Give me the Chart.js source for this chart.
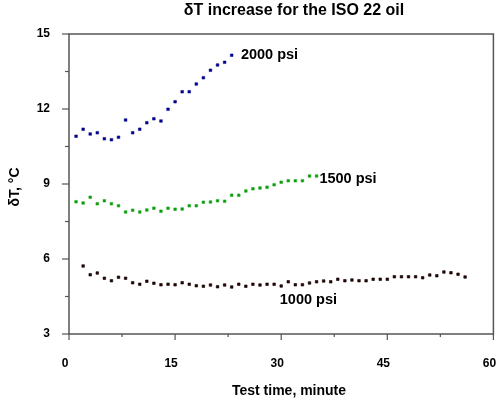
<!DOCTYPE html>
<html><head><meta charset="utf-8">
<script src="https://cdn.jsdelivr.net/npm/chart.js@4/dist/chart.umd.min.js"></script>
<style>html,body{margin:0;padding:0;background:#fff}canvas{display:block}</style>
</head><body>
<canvas id="c" width="498" height="404"></canvas>
<script>
const title = "δT increase for the ISO 22 oil";
const xTitle = "Test time, minute";
const yTitle = "δT, °C";
const xTicks = [0, 15, 30, 45, 60];
const yTicks = [3, 6, 9, 12, 15];
const seriesNames = ["2000 psi", "1500 psi", "1000 psi"];

const t2000 = [1,2,3,4,5,6,7,8,9,10,11,12,13,14,15,16,17,18,19,20,21,22,23];
const v2000 = [10.91,11.19,11.0,11.05,10.81,10.77,10.87,11.56,11.05,11.19,11.45,11.61,11.52,11.99,12.29,12.69,12.69,13.0,13.25,13.55,13.76,13.87,14.15];

const t1500 = [1,2,3,4,5,6,7,8,9,10,11,12,13,14,15,16,17,18,19,20,21,22,23,24,25,26,27,28,29,30,31,32,33,34,35];
const v1500 = [8.29,8.24,8.47,8.21,8.33,8.21,8.13,7.88,7.95,7.88,7.96,8.03,7.91,8.03,7.99,8.0,8.13,8.13,8.27,8.28,8.33,8.31,8.55,8.55,8.72,8.81,8.84,8.87,8.97,9.07,9.13,9.13,9.13,9.32,9.32];

const t1000 = [2,3,4,5,6,7,8,9,10,11,12,13,14,15,16,17,18,19,20,21,22,23,24,25,26,27,28,29,30,31,32,33,34,35,36,37,38,39,40,41,42,43,44,45,46,47,48,49,50,51,52,53,54,55,56];
const v1000 = [5.72,5.37,5.44,5.23,5.13,5.27,5.23,5.05,4.99,5.11,5.03,4.97,4.99,4.97,5.05,4.99,4.93,4.91,4.96,4.89,4.96,4.88,4.99,4.91,4.99,4.96,4.99,4.99,4.92,5.09,4.97,4.97,5.04,5.09,5.12,5.09,5.19,5.13,5.16,5.13,5.13,5.19,5.19,5.19,5.29,5.29,5.29,5.29,5.25,5.36,5.33,5.48,5.45,5.39,5.28];

// label anchor positions (data coords)
const labelPos = [[24.3, 14.17], [35.4, 9.2], [29.8, 4.36]];

const pts = (xs, ys) => xs.map((x, i) => ({x: x, y: ys[i]}));
const FONT = '"Liberation Sans", Arial, sans-serif';
const AX = '#555';

const decor = {
  id: 'decor',
  afterDraw(chart) {
    const ctx = chart.ctx, a = chart.chartArea;
    const xs = chart.scales.x, ys = chart.scales.y;
    ctx.save();
    // frame
    ctx.strokeStyle = AX; ctx.lineWidth = 1.5;
    ctx.strokeRect(a.left, a.top, a.right - a.left, a.bottom - a.top);
    // ticks (major + minor)
    ctx.lineWidth = 1.2;
    for (let v = 0; v <= 60; v += 7.5) {
      const p = xs.getPixelForValue(v);
      const len = (v % 15 === 0) ? 6 : 3;
      ctx.beginPath(); ctx.moveTo(p, a.bottom); ctx.lineTo(p, a.bottom + len); ctx.stroke();
    }
    for (let v = 3; v <= 15.001; v += 1.5) {
      const p = ys.getPixelForValue(v);
      const len = (Math.abs(v % 3) < 0.01) ? 7 : 4;
      ctx.beginPath(); ctx.moveTo(a.left, p); ctx.lineTo(a.left - len, p); ctx.stroke();
    }
    // titles
    ctx.fillStyle = '#000';
    ctx.font = 'bold 16px ' + FONT;
    ctx.textAlign = 'center'; ctx.textBaseline = 'middle';
    ctx.fillText(title, 294, 11);
    ctx.font = 'bold 14px ' + FONT;
    ctx.fillText(xTitle, 289, 391);
    ctx.save();
    ctx.translate(15, 187); ctx.rotate(-Math.PI / 2);
    ctx.font = 'bold 14px ' + FONT;
    ctx.fillText(yTitle, 0, 0);
    ctx.restore();
    // series labels
    ctx.font = 'bold 14.5px ' + FONT;
    ctx.textAlign = 'left';
    seriesNames.forEach((n, i) => {
      ctx.fillText(n, xs.getPixelForValue(labelPos[i][0]), ys.getPixelForValue(labelPos[i][1]));
    });
    ctx.restore();
  }
};

new Chart(document.getElementById('c'), {
  type: 'scatter',
  data: {
    datasets: [
      {label: seriesNames[0], data: pts(t2000, v2000), pointStyle: 'rect', pointRadius: 1.9,
       backgroundColor: '#000099', borderColor: '#000080', borderWidth: 0.5},
      {label: seriesNames[1], data: pts(t1500, v1500), pointStyle: 'rect', pointRadius: 1.9,
       backgroundColor: '#009900', borderColor: '#33b033', borderWidth: 0.6},
      {label: seriesNames[2], data: pts(t1000, v1000), pointStyle: 'rect', pointRadius: 1.8,
       backgroundColor: '#3a0000', borderColor: '#000', borderWidth: 0.6}
    ]
  },
  options: {
    responsive: false, animation: false,
    layout: {padding: {left: 0, top: 34, right: 3, bottom: 0}},
    plugins: {legend: {display: false}, tooltip: {enabled: false}, title: {display: false}},
    scales: {
      x: {
        type: 'linear', min: 0, max: 60,
        afterBuildTicks(s) { s.ticks = xTicks.map(v => ({value: v})); },
        afterFit(s) { s.height = 70; s.paddingLeft = 0; s.paddingRight = 0; },
        grid: {display: false, drawTicks: false},
        border: {display: false},
        ticks: {color: '#000', font: {family: FONT, weight: 'bold', size: 12}, padding: 22, maxRotation: 0, labelOffset: -4}
      },
      y: {
        type: 'linear', min: 3, max: 15,
        afterBuildTicks(s) { s.ticks = yTicks.map(v => ({value: v})); },
        afterFit(s) { s.width = 69; s.paddingTop = 0; s.paddingBottom = 0; },
        grid: {display: false, drawTicks: false},
        border: {display: false},
        ticks: {color: '#000', font: {family: FONT, weight: 'bold', size: 12}, padding: 19}
      }
    }
  },
  plugins: [decor]
});
</script>
</body></html>
